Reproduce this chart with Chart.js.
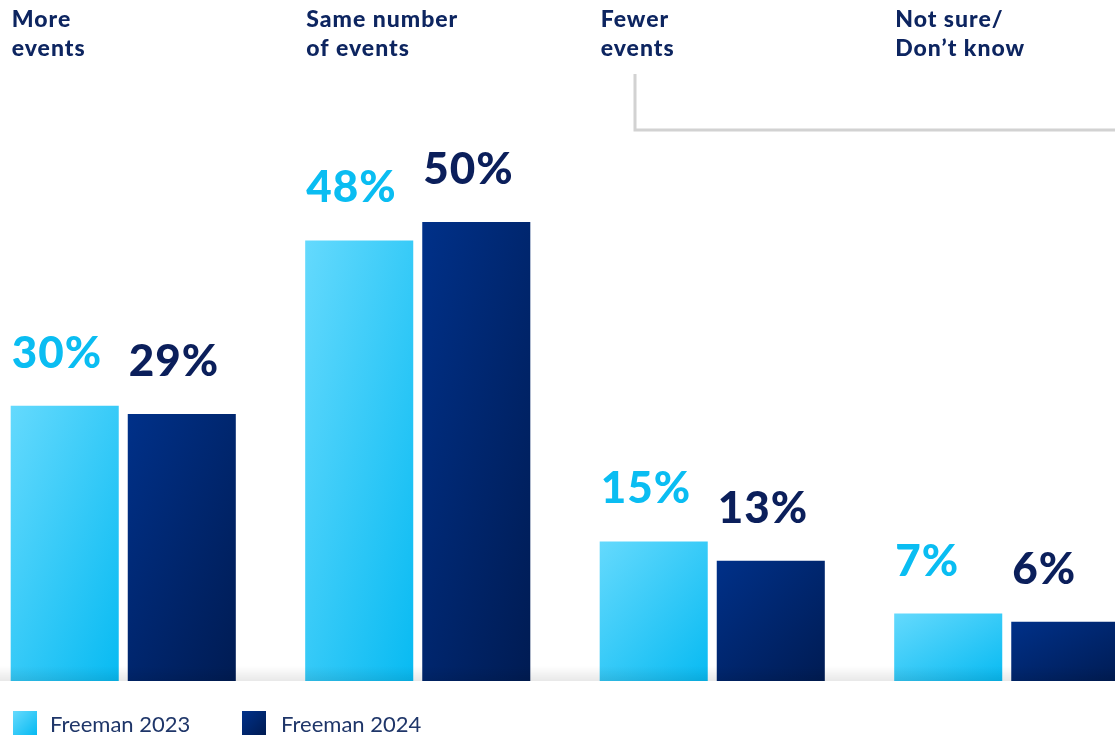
<!DOCTYPE html>
<html>
<head>
<meta charset="utf-8">
<script src="https://cdn.jsdelivr.net/npm/chart.js@4.4.1/dist/chart.umd.min.js"></script>
<style>
  html, body { margin: 0; padding: 0; background: #fff; }
  #wrap { position: relative; width: 1115px; height: 737px; overflow: hidden; }
  #chart { position: absolute; left: -24px; top: 0; }
</style>
</head>
<body>
<div id="wrap"><canvas id="chart" width="1178" height="737"></canvas></div>
<script>
// data (bar heights as measured; labels show rounded values)
const categories = ['More\nevents', 'Same number\nof events', 'Fewer\nevents', 'Not sure/\nDon\u2019t know'];
const seriesNames = ['Freeman 2023', 'Freeman 2024'];
const values2023 = [30, 48, 15.2, 7.35];
const values2024 = [29.1, 50, 13.1, 6.45];

const LIGHT = ['#66dafd', '#06baf2'];
const DARK = ['#00318a', '#001b52'];
const LABEL_COLORS = ['#0abdf2', '#0b1f5b'];
const NAVY = '#0d2560';
const CAT_PCT = 0.795;
const BAR_PCT = 0.923;

// "to bottom right" style gradient for a box
function boxGradient(ctx, left, top, w, h, stops) {
    const n = Math.sqrt(w * w + h * h) || 1;
    const dx = h / n, dy = w / n;
    const len = 2 * w * h / n;
    const cx = left + w / 2, cy = top + h / 2;
    const g = ctx.createLinearGradient(cx - dx * len / 2, cy - dy * len / 2, cx + dx * len / 2, cy + dy * len / 2);
    g.addColorStop(0, stops[0]);
    g.addColorStop(1, stops[1]);
    return g;
}

function barGradient(c, stops) {
    const chart = c.chart;
    const xs = chart.scales.x, ys = chart.scales.y;
    if (!chart.chartArea || !xs || !ys || !c.parsed) return stops[0];
    const center = xs.getPixelForValue(c.dataIndex);
    const groupW = xs.width / categories.length * CAT_PCT;
    const left = c.datasetIndex === 0 ? center - groupW / 2 : center;
    const top = ys.getPixelForValue(c.parsed.y);
    const bottom = ys.getPixelForValue(0);
    return boxGradient(chart.ctx, left, top, groupW / 2, bottom - top, stops);
}

const decorations = {
    id: 'decorations',
    afterDatasetsDraw(chart) {
        const ctx = chart.ctx;
        const area = chart.chartArea;
        // soft shadow along the baseline
        const sh = ctx.createLinearGradient(0, area.bottom - 15, 0, area.bottom);
        sh.addColorStop(0, 'rgba(0,0,0,0)');
        sh.addColorStop(1, 'rgba(0,0,0,0.09)');
        ctx.fillStyle = sh;
        ctx.fillRect(0, area.bottom - 15, chart.width, 15);
    },
    afterDraw(chart) {
        const ctx = chart.ctx;
        const off = 24; // canvas is shifted left of the page
        ctx.save();
        ctx.textAlign = 'left';
        ctx.textBaseline = 'alphabetic';

        // value labels
        ctx.font = '900 44px Lato';
        ctx.letterSpacing = '1px';
        [0, 1].forEach(d => {
            const meta = chart.getDatasetMeta(d);
            ctx.fillStyle = LABEL_COLORS[d];
            meta.data.forEach((bar, i) => {
                const v = chart.data.datasets[d].data[i];
                ctx.fillText(Math.round(v) + '%', bar.x - bar.width / 2 + 1, bar.y - 38);
            });
        });

        // category labels
        ctx.font = '900 23px Lato';
        ctx.letterSpacing = '1px';
        ctx.fillStyle = NAVY;
        const meta0 = chart.getDatasetMeta(0);
        categories.forEach((cat, i) => {
            const bar = meta0.data[i];
            cat.split('\n').forEach((line, k) => {
                ctx.fillText(line, bar.x - bar.width / 2 + 1, 27 + k * 29);
            });
        });
        ctx.letterSpacing = '0px';

        // bracket line
        ctx.strokeStyle = '#d2d2d2';
        ctx.lineWidth = 3;
        ctx.beginPath();
        ctx.moveTo(635 + off, 74);
        ctx.lineTo(635 + off, 130);
        ctx.lineTo(chart.width, 130);
        ctx.stroke();

        // legend
        const legendX = [13, 242];
        const textX = [50, 281];
        [LIGHT, DARK].forEach((stops, d) => {
            const x = legendX[d] + off, y = 711;
            ctx.fillStyle = boxGradient(ctx, x, y, 24, 24, stops);
            ctx.fillRect(x, y, 24, 24);
            ctx.font = '22px Lato';
            ctx.fillStyle = '#1f3669';
            ctx.fillText(seriesNames[d], textX[d] + off, 732);
        });
        ctx.restore();
    }
};

new Chart(document.getElementById('chart'), {
    type: 'bar',
    data: {
        labels: categories,
        datasets: [{
            label: seriesNames[0],
            data: values2023,
            backgroundColor: c => barGradient(c, LIGHT),
            categoryPercentage: CAT_PCT,
            barPercentage: BAR_PCT
        }, {
            label: seriesNames[1],
            data: values2024,
            backgroundColor: c => barGradient(c, DARK),
            categoryPercentage: CAT_PCT,
            barPercentage: BAR_PCT
        }]
    },
    options: {
        responsive: false,
        animation: false,
        devicePixelRatio: 1,
        layout: { padding: { top: 0, bottom: 56, left: 0, right: 0 } },
        plugins: { legend: { display: false }, tooltip: { enabled: false } },
        scales: {
            x: { display: false },
            y: { display: false, min: 0, max: 74.2 }
        }
    },
    plugins: [decorations]
});
</script>
</body>
</html>
